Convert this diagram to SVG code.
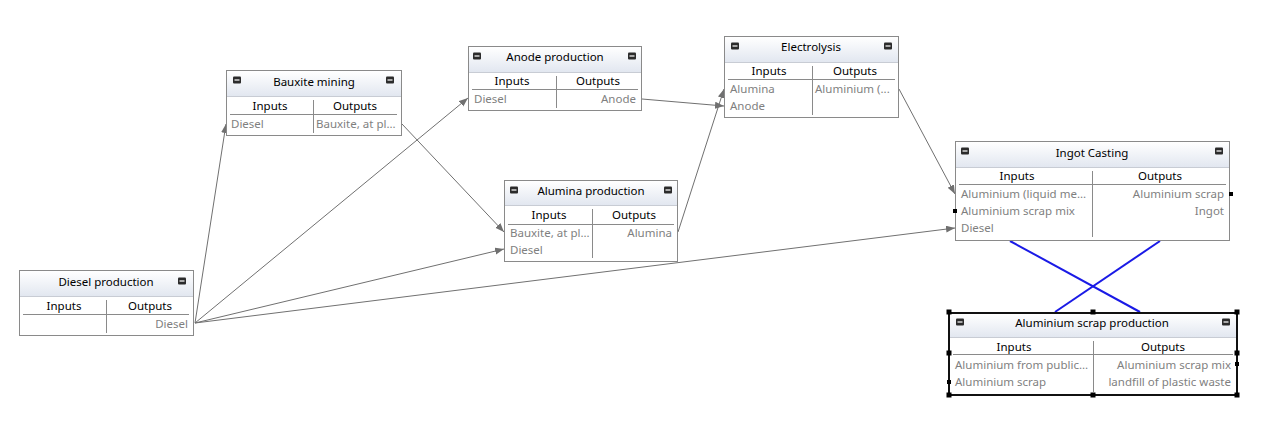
<svg xmlns="http://www.w3.org/2000/svg" width="1262" height="421" viewBox="0 0 1262 421">
<style>
text{font-family:"Noto Sans","Open Sans","Liberation Sans",sans-serif;font-size:11.5px}
.box{fill:#fff;stroke:#8a8a8a;stroke-width:1}
.sel{fill:#fff;stroke:#111;stroke-width:2}
.hdr{fill:url(#hg)}
.hl{stroke:#c8ccd4;stroke-width:1}
.cl{stroke:#8a8a8a;stroke-width:1}
.t{fill:#000;text-anchor:middle}
.ch{fill:#000;text-anchor:middle}
.ri{fill:#7f7f7f}
.ro{fill:#7f7f7f;text-anchor:end}
.con{stroke:#707070;stroke-width:1;fill:none;marker-end:url(#ah)}
.blue{stroke:#1a1ae6;stroke-width:2;fill:none}
.h{fill:#000}
</style>
<defs>
<linearGradient id="hg" x1="0" y1="0" x2="0" y2="1">
<stop offset="0" stop-color="#ffffff"/>
<stop offset="1" stop-color="#e2e7f0"/>
</linearGradient>
<marker id="ah" markerUnits="userSpaceOnUse" markerWidth="10" markerHeight="8" refX="9" refY="3.5" orient="auto">
<path d="M0,0 L9,3.5 L0,7 z" fill="#707070"/>
</marker>
<g id="mini"><rect x="-4" y="-3.5" width="8" height="7" rx="1" fill="#2b2b2b"/><line x1="-2.5" y1="0" x2="2.5" y2="0" stroke="#fff" stroke-width="1.2"/></g>
</defs>
<rect width="1262" height="421" fill="#fff"/>

<g id="connectors">
<line class="con" x1="195" y1="323" x2="226" y2="124"/>
<line class="con" x1="195" y1="323" x2="468" y2="98"/>
<line class="con" x1="195" y1="323" x2="504" y2="249"/>
<line class="con" x1="195" y1="323" x2="955" y2="228"/>
<line class="con" x1="402" y1="124" x2="504" y2="232"/>
<line class="con" x1="642" y1="99" x2="724" y2="106"/>
<line class="con" x1="678" y1="232" x2="724" y2="89"/>
<line class="con" x1="899" y1="89" x2="955" y2="194"/>
<line class="blue" x1="1010" y1="241" x2="1140" y2="312"/>
<line class="blue" x1="1160" y1="241" x2="1055" y2="312"/>
</g>

<g id="diesel-production">
<rect class="box" x="19.5" y="270.5" width="174" height="65"/>
<rect class="hdr" x="20" y="271" width="173" height="25"/>
<line class="hl" x1="20" y1="296.5" x2="193" y2="296.5"/>
<text class="t" x="106" y="286">Diesel production</text>
<use href="#mini" x="182" y="281"/>
<text class="ch" x="64" y="310">Inputs</text>
<text class="ch" x="150" y="310">Outputs</text>
<line class="cl" x1="23" y1="314.5" x2="189" y2="314.5"/>
<line class="cl" x1="106.5" y1="300" x2="106.5" y2="333"/>
<text class="ro" x="188" y="328">Diesel</text>
</g>

<g id="bauxite-mining">
<rect class="box" x="226.5" y="70.5" width="175" height="65"/>
<rect class="hdr" x="227" y="71" width="174" height="25"/>
<line class="hl" x1="227" y1="96.5" x2="401" y2="96.5"/>
<text class="t" x="314" y="86">Bauxite mining</text>
<use href="#mini" x="237" y="80"/>
<use href="#mini" x="390" y="80"/>
<text class="ch" x="270" y="110">Inputs</text>
<text class="ch" x="355" y="110">Outputs</text>
<line class="cl" x1="230" y1="114.5" x2="397" y2="114.5"/>
<line class="cl" x1="313.5" y1="100" x2="313.5" y2="133"/>
<text class="ri" x="231" y="128">Diesel</text>
<text class="ri" x="316" y="128">Bauxite, at pl...</text>
</g>

<g id="anode-production">
<rect class="box" x="468.5" y="46.5" width="173" height="64"/>
<rect class="hdr" x="469" y="47" width="172" height="25"/>
<line class="hl" x1="469" y1="72.5" x2="641" y2="72.5"/>
<text class="t" x="555" y="61">Anode production</text>
<use href="#mini" x="477" y="56"/>
<use href="#mini" x="632" y="56"/>
<text class="ch" x="512" y="85">Inputs</text>
<text class="ch" x="598" y="85">Outputs</text>
<line class="cl" x1="472" y1="89.5" x2="638" y2="89.5"/>
<line class="cl" x1="556.5" y1="76" x2="556.5" y2="108"/>
<text class="ri" x="474" y="103">Diesel</text>
<text class="ro" x="636" y="103">Anode</text>
</g>

<g id="electrolysis">
<rect class="box" x="724.5" y="36.5" width="174" height="81"/>
<rect class="hdr" x="725" y="37" width="173" height="25"/>
<line class="hl" x1="725" y1="62.5" x2="898" y2="62.5"/>
<text class="t" x="811" y="51">Electrolysis</text>
<use href="#mini" x="735" y="46"/>
<use href="#mini" x="888" y="46"/>
<text class="ch" x="769" y="75">Inputs</text>
<text class="ch" x="855" y="75">Outputs</text>
<line class="cl" x1="728" y1="79.5" x2="895" y2="79.5"/>
<line class="cl" x1="812.5" y1="66" x2="812.5" y2="115"/>
<text class="ri" x="730" y="93">Alumina</text>
<text class="ri" x="730" y="110">Anode</text>
<text class="ri" x="815" y="93">Aluminium (...</text>
</g>

<g id="alumina-production">
<rect class="box" x="504.5" y="180.5" width="173" height="81"/>
<rect class="hdr" x="505" y="181" width="172" height="24"/>
<line class="hl" x1="505" y1="205.5" x2="677" y2="205.5"/>
<text class="t" x="591" y="195">Alumina production</text>
<use href="#mini" x="514" y="190"/>
<use href="#mini" x="668" y="190"/>
<text class="ch" x="549" y="219">Inputs</text>
<text class="ch" x="634" y="219">Outputs</text>
<line class="cl" x1="508" y1="224.5" x2="674" y2="224.5"/>
<line class="cl" x1="592.5" y1="209" x2="592.5" y2="258"/>
<text class="ri" x="510" y="237">Bauxite, at pl...</text>
<text class="ri" x="510" y="254">Diesel</text>
<text class="ro" x="672" y="237">Alumina</text>
</g>

<g id="ingot-casting">
<rect class="box" x="955.5" y="141.5" width="274" height="99"/>
<rect class="hdr" x="956" y="142" width="273" height="25"/>
<line class="hl" x1="956" y1="167.5" x2="1229" y2="167.5"/>
<text class="t" x="1092" y="157">Ingot Casting</text>
<use href="#mini" x="965" y="151"/>
<use href="#mini" x="1219" y="151"/>
<text class="ch" x="1017" y="180">Inputs</text>
<text class="ch" x="1160" y="180">Outputs</text>
<line class="cl" x1="959" y1="184.5" x2="1226" y2="184.5"/>
<line class="cl" x1="1092.5" y1="171" x2="1092.5" y2="237"/>
<text class="ri" x="961" y="198">Aluminium (liquid me...</text>
<text class="ri" x="961" y="215">Aluminium scrap mix</text>
<text class="ri" x="961" y="232">Diesel</text>
<text class="ro" x="1224" y="198">Aluminium scrap</text>
<text class="ro" x="1224" y="215">Ingot</text>
<rect class="h" x="1229" y="192" width="4" height="4"/>
<rect class="h" x="953" y="209" width="4" height="4"/>
</g>

<g id="aluminium-scrap-production">
<rect class="sel" x="949" y="313" width="288" height="82"/>
<rect class="hdr" x="950" y="314" width="286" height="23"/>
<line class="hl" x1="950" y1="337.5" x2="1236" y2="337.5"/>
<text class="t" x="1092" y="327">Aluminium scrap production</text>
<use href="#mini" x="960" y="322"/>
<use href="#mini" x="1226" y="322"/>
<text class="ch" x="1014" y="351">Inputs</text>
<text class="ch" x="1163" y="351">Outputs</text>
<line class="cl" x1="953" y1="354.5" x2="1233" y2="354.5"/>
<line class="cl" x1="1093.5" y1="341" x2="1093.5" y2="392"/>
<text class="ri" x="955" y="369">Aluminium from public...</text>
<text class="ri" x="955" y="386">Aluminium scrap</text>
<text class="ro" x="1231" y="369">Aluminium scrap mix</text>
<text class="ro" x="1231" y="386">landfill of plastic waste</text>
<rect class="h" x="946.5" y="309.5" width="5" height="5"/>
<rect class="h" x="1090.5" y="309.5" width="5" height="5"/>
<rect class="h" x="1234.5" y="309.5" width="5" height="5"/>
<rect class="h" x="946.5" y="350.5" width="5" height="5"/>
<rect class="h" x="1234.5" y="350.5" width="5" height="5"/>
<rect class="h" x="946.5" y="392.5" width="5" height="5"/>
<rect class="h" x="1090.5" y="392.5" width="5" height="5"/>
<rect class="h" x="1234.5" y="392.5" width="5" height="5"/>
<rect class="h" x="947" y="380" width="4" height="4"/>
<rect class="h" x="1235" y="362" width="4" height="4"/>
</g>
</svg>
